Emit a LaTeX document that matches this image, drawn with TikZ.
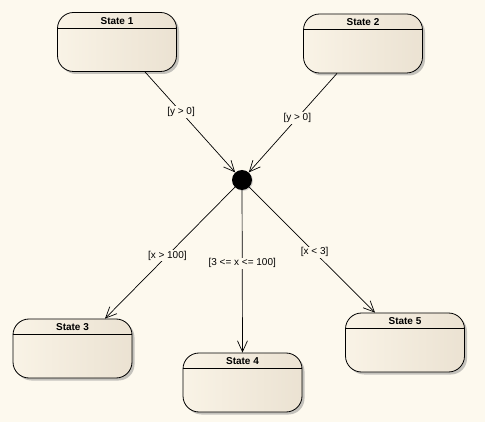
\documentclass[tikz,border=0pt]{standalone}
\usepackage{fontspec}
\setmainfont{Liberation Sans}
\usetikzlibrary{arrows.meta,shadows}
\definecolor{paper}{HTML}{FDF9EE}
\definecolor{statel}{HTML}{F9F3E6}
\definecolor{stater}{HTML}{EBE2D2}

\begin{document}
\begin{tikzpicture}[x=1pt,y=-1pt,
  state/.style={draw,line width=0.8pt,rounded corners=16pt,minimum width=119pt,minimum height=59pt,
    left color=statel,right color=stater,drop shadow={shadow xshift=2.5pt,shadow yshift=-2.5pt,fill=black!45}},
  guard/.style={fill=paper,inner sep=1pt,font=\fontsize{10}{11}\selectfont},
  trans/.style={-{Straight Barb[length=11pt,width=10pt]},line width=0.7pt}]
\fill[paper] (0,0) rectangle (485,422);
\useasboundingbox (0,0) rectangle (485,422);
% states
\foreach \n/\x/\y in {1/117/42,2/363/43.5,3/72.5/348.5,4/242.5/382.5,5/405/342.5} {
  \node[state] (s\n) at (\x,\y) {};
  \draw[line width=0.7pt] ([yshift=-16pt]s\n.north west) -- ([yshift=-16pt]s\n.north east);
  \node[font=\fontsize{10}{11}\selectfont\bfseries] (t\n) at ([yshift=-8.5pt]s\n.north) {State \n};
}
% junction
\node[circle,fill=black,minimum size=20pt,inner sep=0pt,drop shadow={shadow xshift=1pt,shadow yshift=-1pt,fill=black!30}] (j) at (242,180) {};
\draw[trans] ([xshift=28pt]s1.south) -- node[guard,pos=0.4] {[y > 0]} (j);
\draw[trans] ([xshift=-26pt]s2.south) -- node[guard,pos=0.45] {[y > 0]} (j);
\draw[trans] (j) -- node[guard,pos=0.52] {[x > 100]} ([xshift=32.5pt]s3.north);
\draw[trans] (j) -- node[guard,pos=0.45] {[3 <= x <= 100]} (s4.north);
\draw[trans] (j) -- node[guard,pos=0.52] {[x < 3]} ([xshift=-30pt]s5.north);
\end{tikzpicture}
\end{document}
